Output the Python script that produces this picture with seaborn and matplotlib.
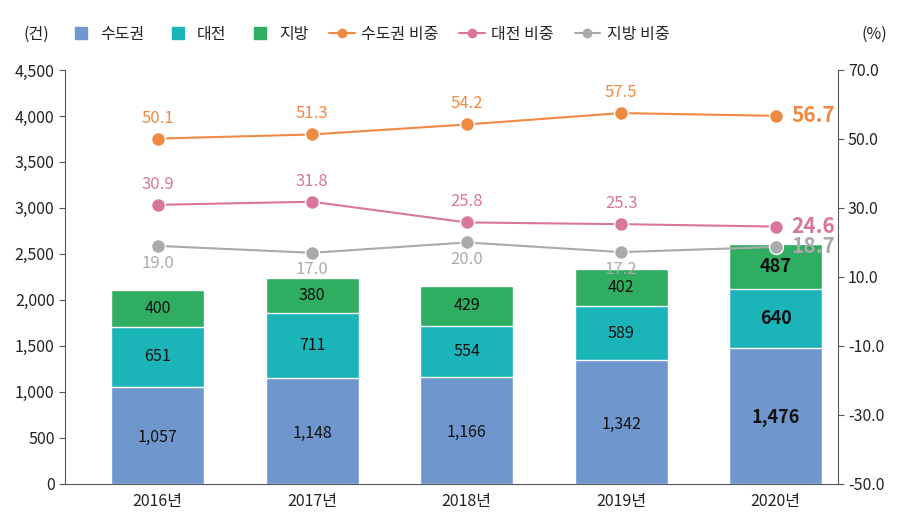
import numpy as np
import pandas as pd
import matplotlib
matplotlib.use('Agg')
import matplotlib.pyplot as plt
import seaborn as sns
from matplotlib.lines import Line2D

# data
years = ['2016년', '2017년', '2018년', '2019년', '2020년']
capital = [1057, 1148, 1166, 1342, 1476]
daejeon = [651, 711, 554, 589, 640]
local = [400, 380, 429, 402, 487]
capital_pct = [50.1, 51.3, 54.2, 57.5, 56.7]
daejeon_pct = [30.9, 31.8, 25.8, 25.3, 24.6]
local_pct = [19.0, 17.0, 20.0, 17.2, 18.7]

c_blue = '#7097cd'
c_teal = '#1bb4b9'
c_green = '#2fae61'
c_orange = '#f08a43'
c_pink = '#d8769c'
c_gray = '#aaaaaa'

sns.set_style('white')
plt.rcParams['font.family'] = ['Noto Sans CJK KR', 'DejaVu Sans']
plt.rcParams['axes.unicode_minus'] = False

df = pd.DataFrame({'year': years, 'capital': capital, 'daejeon': daejeon, 'local': local})
df['cd'] = df['capital'] + df['daejeon']
df['total'] = df['cd'] + df['local']

fig = plt.figure(figsize=(9.23, 5.26), dpi=100)
ax = fig.add_axes([0.0704, 0.080, 0.837, 0.787])

# stacked bars: draw the taller stacks first
sns.barplot(data=df, x='year', y='total', color=c_green, width=0.6, saturation=1, ax=ax)
sns.barplot(data=df, x='year', y='cd', color=c_teal, width=0.6, saturation=1, ax=ax)
sns.barplot(data=df, x='year', y='capital', color=c_blue, width=0.6, saturation=1, ax=ax)

ax.set_ylim(0, 4500)
ax.set_yticks(range(0, 4501, 500))
ax.set_yticklabels([f'{v:,}' for v in range(0, 4501, 500)])
ax.set_xlim(-0.6, 4.4)
ax.set_xlabel('')
ax.set_ylabel('')
for s in ['top', 'right']:
    ax.spines[s].set_visible(False)
for s in ['left', 'bottom']:
    ax.spines[s].set_color('#555555')
ax.tick_params(axis='y', left=True, length=4, color='#555555', labelsize=11.5, labelcolor='#222222')
ax.tick_params(axis='x', bottom=False, labelsize=11.5, labelcolor='#222222', pad=3)

# bar labels
for i in range(len(years)):
    last = i == len(years) - 1
    kw = dict(ha='center', va='center', color='#111111',
              fontsize=13 if last else 11.5, fontweight='bold' if last else 'normal')
    ax.text(i, capital[i] * 0.5 - 20, f'{capital[i]:,}', **kw)
    ax.text(i, capital[i] + daejeon[i] * 0.5, f'{daejeon[i]:,}', **kw)
    ax.text(i, capital[i] + daejeon[i] + local[i] * 0.5, f'{local[i]:,}', **kw)

# share lines
ax2 = ax.twinx()
x = np.arange(len(years))
for vals, col in [(capital_pct, c_orange), (daejeon_pct, c_pink), (local_pct, c_gray)]:
    sns.lineplot(x=x, y=vals, color=col, marker='o', markersize=10, markeredgecolor='white',
                 markeredgewidth=1, linewidth=1.5, ax=ax2)
ax2.set_ylim(-50, 70)
ax2.set_yticks(range(-50, 71, 20))
ax2.set_yticklabels([f'{v:.1f}' for v in range(-50, 71, 20)])
ax2.set_xlim(-0.6, 4.4)
for s in ['top', 'left', 'bottom']:
    ax2.spines[s].set_visible(False)
ax2.spines['right'].set_color('#555555')
ax2.tick_params(axis='y', right=True, length=4, color='#555555', labelsize=11.5, labelcolor='#222222')

for i in range(len(years) - 1):
    ax2.text(i, capital_pct[i] + 3.5, f'{capital_pct[i]:.1f}', ha='center', va='bottom',
             color=c_orange, fontsize=12)
    ax2.text(i, daejeon_pct[i] + 3.5, f'{daejeon_pct[i]:.1f}', ha='center', va='bottom',
             color=c_pink, fontsize=12)
    ax2.text(i, local_pct[i] - 2.5, f'{local_pct[i]:.1f}', ha='center', va='top',
             color=c_gray, fontsize=12)
n = len(years) - 1
for vals, col in [(capital_pct, c_orange), (daejeon_pct, c_pink), (local_pct, c_gray)]:
    ax2.text(n + 0.1, vals[n], f'{vals[n]:.1f}', ha='left', va='center',
             color=col, fontsize=15, fontweight='bold')

# legend
handles = [
    Line2D([0], [0], color=c_blue, marker='s', markersize=9, linestyle='none', label='수도권'),
    Line2D([0], [0], color=c_teal, marker='s', markersize=9, linestyle='none', label='대전'),
    Line2D([0], [0], color=c_green, marker='s', markersize=9, linestyle='none', label='지방'),
    Line2D([0], [0], color=c_orange, marker='o', markersize=6, label='수도권 비중'),
    Line2D([0], [0], color=c_pink, marker='o', markersize=6, label='대전 비중'),
    Line2D([0], [0], color=c_gray, marker='o', markersize=6, label='지방 비중'),
]
fig.legend(handles=handles, loc='center left', bbox_to_anchor=(0.058, 0.935), ncol=6,
           frameon=False, fontsize=11.5, handlelength=1.6,
           columnspacing=1.3, handletextpad=0.4)
fig.text(0.025, 0.935, '(건)', ha='left', va='center', fontsize=11.5, color='#222222')
fig.text(0.933, 0.935, '(%)', ha='left', va='center', fontsize=11.5, color='#222222')

fig.savefig('out.png', dpi=100)
